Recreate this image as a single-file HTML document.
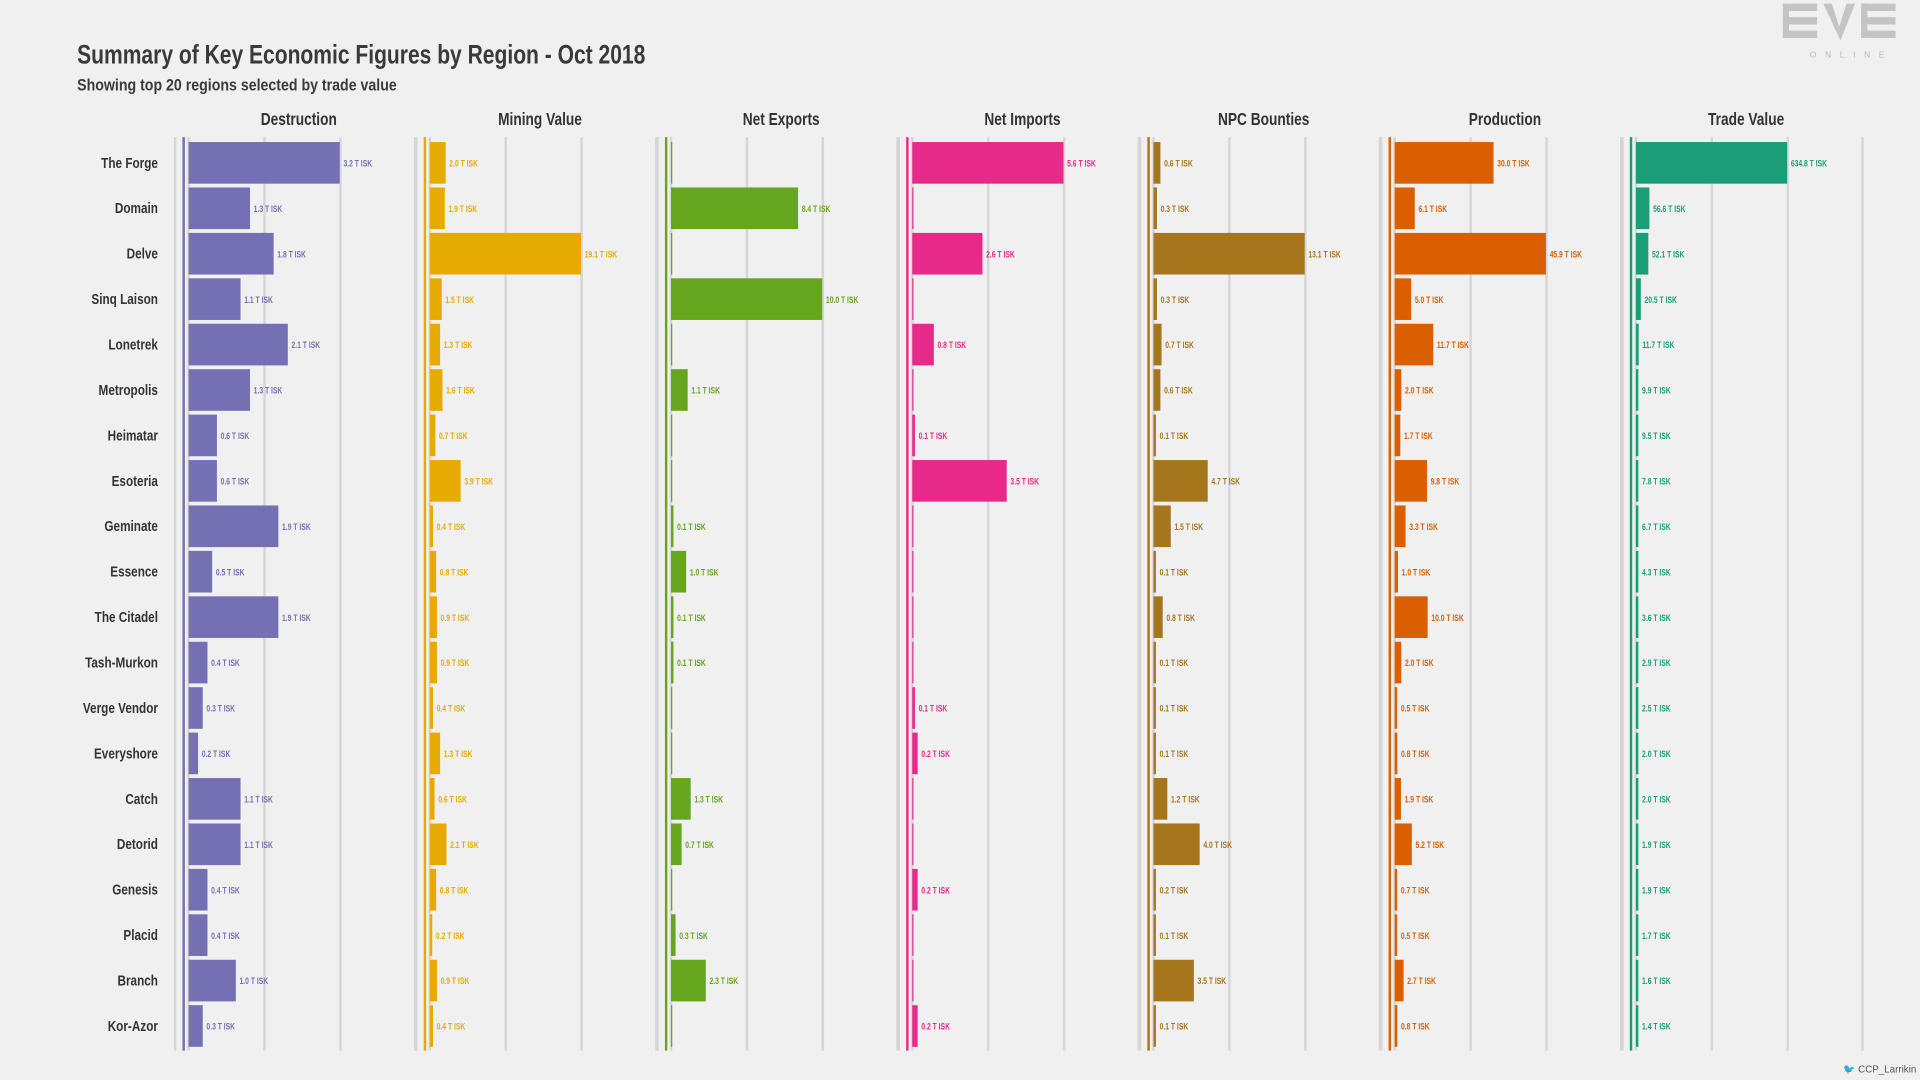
<!DOCTYPE html>
<html><head><meta charset="utf-8">
<style>
html,body{margin:0;padding:0;background:#f0f0f0;}
svg{display:block;font-family:"Liberation Sans Narrow","Liberation Sans",sans-serif;}
</style></head>
<body>
<svg id="chart" width="1920" height="1080" viewBox="0 0 1568 882" xmlns="http://www.w3.org/2000/svg">
<rect width="1568" height="882" fill="#f0f0f0"/>
<text x="63" y="52" font-size="22" fill="#3a3a3a" font-weight="bold" textLength="464" lengthAdjust="spacingAndGlyphs">Summary of Key Economic Figures by Region - Oct 2018</text>
<text x="63" y="74" font-size="13.5" fill="#3a3a3a" font-weight="bold" textLength="261" lengthAdjust="spacingAndGlyphs">Showing top 20 regions selected by trade value</text>
<g fill="#c4c4c4">
<rect x="1456" y="3" width="28" height="6"/><rect x="1456" y="14" width="28" height="6"/><rect x="1456" y="25" width="28" height="6"/><rect x="1456" y="3" width="5" height="28"/>
<polygon points="1489,3 1496,3 1502,22 1508,3 1515,3 1503,33"/>
<rect x="1520" y="3" width="28" height="6"/><rect x="1520" y="14" width="28" height="6"/><rect x="1520" y="25" width="28" height="6"/><rect x="1520" y="3" width="5" height="28"/>
<text x="1478" y="47" font-size="7" fill="#b8b8b8" letter-spacing="7">ONLINE</text>
</g>
<text x="1565" y="876" font-size="8" fill="#555" text-anchor="end">🐦 CCP_Larrikin</text>
<g id="plot"></g>
</svg>
<script>
const regions = ["The Forge","Domain","Delve","Sinq Laison","Lonetrek","Metropolis","Heimatar","Esoteria","Geminate","Essence","The Citadel","Tash-Murkon","Verge Vendor","Everyshore","Catch","Detorid","Genesis","Placid","Branch","Kor-Azor"];
const metrics = ["Destruction","Mining Value","Net Exports","Net Imports","NPC Bounties","Production","Trade Value"];
const destruction = [3.2,1.3,1.8,1.1,2.1,1.3,0.6,0.6,1.9,0.5,1.9,0.4,0.3,0.2,1.1,1.1,0.4,0.4,1.0,0.3];
const mining = [2.0,1.9,19.1,1.5,1.3,1.6,0.7,3.9,0.4,0.8,0.9,0.9,0.4,1.3,0.6,2.1,0.8,0.2,0.9,0.4];
const netExports = [0,8.4,0,10.0,0,1.1,0,0,0.1,1.0,0.1,0.1,0,0,1.3,0.7,0,0.3,2.3,0];
const netImports = [5.6,0,2.6,0,0.8,0,0.1,3.5,0,0,0,0,0.1,0.2,0,0,0.2,0,0,0.2];
const npcBounties = [0.6,0.3,13.1,0.3,0.7,0.6,0.1,4.7,1.5,0.1,0.8,0.1,0.1,0.1,1.2,4.0,0.2,0.1,3.5,0.1];
const production = [30.0,6.1,45.9,5.0,11.7,2.0,1.7,9.8,3.3,1.0,10.0,2.0,0.5,0.8,1.9,5.2,0.7,0.5,2.7,0.8];
const tradeValue = [634.8,56.6,52.1,20.5,11.7,9.9,9.5,7.8,6.7,4.3,3.6,2.9,2.5,2.0,2.0,1.9,1.9,1.7,1.6,1.4];

const series = [destruction,mining,netExports,netImports,npcBounties,production,tradeValue];
const colors = ["#7570b3","#e6ab02","#66a61e","#e7298a","#a6761d","#d95f02","#1b9e77"];
const NS = "http://www.w3.org/2000/svg";
const plot = document.getElementById("plot");
const panelX = i => 154 + i*197;
const rowY = r => 133 + r*37.1;
const BAR_H = 34, MAXW = 123.5;
function mk(tag, attrs, parent){const e=document.createElementNS(NS,tag);for(const k in attrs)e.setAttribute(k,attrs[k]);parent.appendChild(e);return e;}
function txt(x,y,sx,attrs,parent,s){const t=mk("text",Object.assign({x:0,y:0,transform:`translate(${x},${y}) scale(${sx},1)`},attrs),parent);t.textContent=s;return t;}

regions.forEach((name,r)=>{
  const t = txt(129,rowY(r)+4,0.8,{"font-size":12,"font-weight":"bold",fill:"#333","text-anchor":"end"},plot,name);
  
  
});

metrics.forEach((m,i)=>{
  const g = mk("g",{},plot);
  
  
  const x0 = panelX(i);
  const vals = series[i];
  const max = Math.max(...vals);
  const sx = v => v / max * MAXW;
  [-11,0,62,124,185].forEach(o=>{
    const l = mk("rect",{x:x0+o-1,y:112,width:2,height:746,fill:"#d6d6d6"},g);
    
    
  });
  const ax = mk("rect",{x:x0-5,y:112,width:2,height:746,fill:colors[i]},g);
  
  
  const tt = txt(x0+90,102,0.8,{"font-size":14,"font-weight":"bold",fill:"#333","text-anchor":"middle"},g,m);
  
  
  vals.forEach((v,r)=>{
    const w = v>0 ? Math.max(2, sx(v)) : 1;
    const b = mk("rect",{x:x0,y:rowY(r)-BAR_H/2,width:w,height:BAR_H,fill:colors[i]},g);
    
    
    if(v>0){
      const lb = txt(x0+w+3,rowY(r)+3,0.74,{"font-size":7.5,"font-weight":"bold",fill:colors[i]},g,v.toFixed(1) + " T ISK");
      
      
    }
  });
});
</script>
</body></html>
